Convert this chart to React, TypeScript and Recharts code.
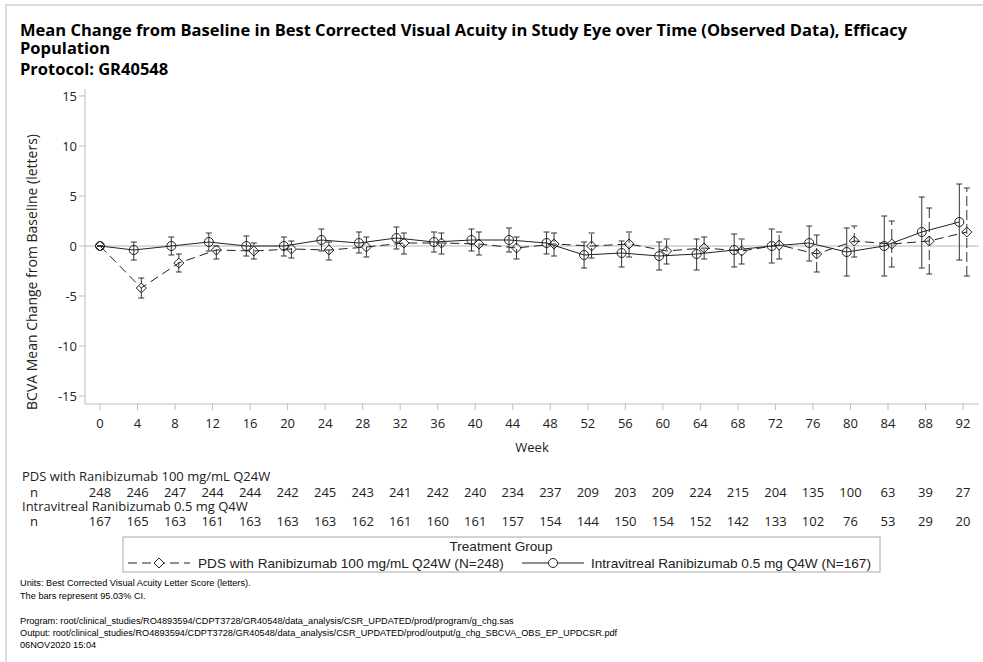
import React from "react";
import {
  LineChart,
  Line,
  XAxis,
  YAxis,
  ErrorBar,
  ReferenceLine,
  ReferenceArea,
} from "recharts";

// visit weeks
const weeks = [0, 4, 8, 12, 16, 20, 24, 28, 32, 36, 40, 44, 48, 52, 56, 60, 64, 68, 72, 76, 80, 84, 88, 92];

// PDS with Ranibizumab 100 mg/mL Q24W
const pdsMean = [0, -4.2, -1.7, -0.4, -0.5, -0.3, -0.4, -0.1, 0.3, 0.3, 0.2, -0.2, 0.2, 0.0, 0.2, -0.5, -0.2, -0.5, 0.1, -0.8, 0.5, 0.2, 0.5, 1.4];
const pdsLow = [0, -5.2, -2.6, -1.3, -1.3, -1.2, -1.4, -1.1, -0.8, -0.8, -0.9, -1.3, -1.0, -1.2, -1.1, -1.8, -1.3, -1.8, -1.3, -2.6, -1.1, -2.1, -2.8, -3.0];
const pdsHigh = [0, -3.2, -0.8, 0.0, 0.3, 0.5, 0.4, 0.9, 1.3, 1.3, 1.4, 0.9, 1.3, 1.3, 1.4, 0.7, 0.9, 0.7, 1.4, 1.1, 2.0, 2.5, 3.8, 5.8];
const pdsN = [248, 246, 247, 244, 244, 242, 245, 243, 241, 242, 240, 234, 237, 209, 203, 209, 224, 215, 204, 135, 100, 63, 39, 27];

// Intravitreal Ranibizumab 0.5 mg Q4W
const ivtMean = [0, -0.4, 0.0, 0.4, 0.0, 0.0, 0.6, 0.3, 0.8, 0.4, 0.6, 0.6, 0.3, -0.9, -0.7, -1.0, -0.8, -0.4, 0.0, 0.3, -0.6, 0.0, 1.4, 2.4];
const ivtLow = [0, -1.4, -0.9, -0.5, -1.0, -1.0, -0.5, -0.7, -0.3, -0.6, -0.5, -0.6, -0.8, -2.2, -2.1, -2.4, -2.4, -2.1, -1.7, -1.5, -3.0, -3.0, -2.2, -1.4];
const ivtHigh = [0, 0.4, 0.9, 1.3, 1.0, 0.9, 1.7, 1.4, 1.9, 1.4, 1.7, 1.8, 1.4, 0.4, 0.5, 0.4, 0.7, 1.2, 1.7, 2.0, 1.8, 3.0, 4.9, 6.2];
const ivtN = [167, 165, 163, 161, 163, 163, 163, 162, 161, 160, 161, 157, 154, 144, 150, 154, 152, 142, 133, 102, 76, 53, 29, 20];

const yTicks = [-15, -10, -5, 0, 5, 10, 15];

const PDS_LABEL = "PDS with Ranibizumab 100 mg/mL Q24W";
const IVT_LABEL = "Intravitreal Ranibizumab 0.5 mg Q4W";

// groups are nudged apart on the x axis so the bars don't overlap (baseline stays put)
const CLUSTER = 0.4;

function buildSeries(mean: number[], low: number[], high: number[], shift: number) {
  return weeks.map((w, i) => ({
    x: w === 0 ? w : w + shift,
    y: mean[i],
    ci: [mean[i] - low[i], high[i] - mean[i]],
  }));
}

const pdsData = buildSeries(pdsMean, pdsLow, pdsHigh, CLUSTER);
const ivtData = buildSeries(ivtMean, ivtLow, ivtHigh, -CLUSTER);

const INK = "#222";
const FRAME = "#bdbdbd";
const SANS = "'Open Sans', 'Noto Sans', sans-serif";
const ARIAL = "'Liberation Sans', Arial, sans-serif";

const Diamond = (props: any) => {
  const { cx, cy, index } = props;
  if (cx == null || cy == null) return <g key={`d-${index}`} />;
  const r = 5;
  return (
    <polygon
      key={`d-${index}`}
      points={`${cx},${cy - r} ${cx + r},${cy} ${cx},${cy + r} ${cx - r},${cy}`}
      fill="none"
      stroke={INK}
      strokeWidth={1}
    />
  );
};

const Circle = (props: any) => {
  const { cx, cy, index } = props;
  if (cx == null || cy == null) return <g key={`c-${index}`} />;
  return <circle key={`c-${index}`} cx={cx} cy={cy} r={4.5} fill="none" stroke={INK} strokeWidth={1} />;
};

// week label plus the at-risk counts under each tick
const WeekTick = (props: any) => {
  const { x, payload } = props;
  const i = weeks.indexOf(payload.value);
  return (
    <g fontFamily={SANS} fontSize={13} fill={INK} textAnchor="middle">
      <text x={x} y={428}>{payload.value}</text>
      <text x={x} y={497}>{pdsN[i]}</text>
      <text x={x} y={526}>{ivtN[i]}</text>
    </g>
  );
};

export default function App() {
  return (
    <div style={{ position: "fixed", left: 0, top: 0, width: 983, height: 662, background: "#fff" }}>
      <div style={{ position: "absolute", left: 0, top: 0 }}>
        <LineChart
          width={983}
          height={662}
          margin={{ top: 89, right: 4, bottom: 228, left: 35 }}
        >
          <XAxis
            type="number"
            dataKey="x"
            domain={[-1.6, 93.7]}
            ticks={weeks}
            interval={0}
            allowDataOverflow
            tick={<WeekTick />}
            tickSize={6}
            tickLine={{ stroke: FRAME }}
            axisLine={{ stroke: FRAME }}
            height={30}
          />
          <YAxis
            type="number"
            domain={[-15.8, 15.7]}
            ticks={yTicks}
            interval={0}
            allowDataOverflow
            width={50}
            tickSize={6}
            tickLine={{ stroke: FRAME }}
            axisLine={{ stroke: FRAME }}
            tick={{ fontFamily: SANS, fontSize: 13, fill: INK }}
          />
          <ReferenceArea fill="none" stroke={FRAME} strokeWidth={1.5} ifOverflow="visible" />
          <ReferenceLine y={0} stroke="#b5b5b5" strokeWidth={1} />
          <Line
            data={ivtData}
            dataKey="y"
            stroke={INK}
            strokeWidth={1}
            dot={<Circle />}
            activeDot={false}
            isAnimationActive={false}
          >
            <ErrorBar dataKey="ci" direction="y" width={3} stroke="#333" strokeWidth={1} />
          </Line>
          <Line
            data={pdsData}
            dataKey="y"
            stroke={INK}
            strokeWidth={1}
            strokeDasharray="9 5"
            dot={<Diamond />}
            activeDot={false}
            isAnimationActive={false}
          >
            <ErrorBar dataKey="ci" direction="y" width={3} stroke="#333" strokeWidth={1} strokeDasharray="10 4" />
          </Line>
        </LineChart>
      </div>

      <svg
        width={983}
        height={662}
        style={{ position: "absolute", left: 0, top: 0, pointerEvents: "none" }}
      >
        <rect x={6} y={5} width={1000} height={700} fill="none" stroke="#dcdcdc" strokeWidth={2} />

        <g fontFamily={SANS} fontWeight={700} fontSize={16.5} fill="#000">
          <text x={20} y={36}>
            Mean Change from Baseline in Best Corrected Visual Acuity in Study Eye over Time (Observed Data), Efficacy
          </text>
          <text x={20} y={54}>Population</text>
          <text x={20} y={75}>Protocol: GR40548</text>
        </g>

        <text
          x={0}
          y={0}
          transform="translate(37 272) rotate(-90)"
          textAnchor="middle"
          fontFamily={SANS}
          fontSize={14}
          fill={INK}
        >
          BCVA Mean Change from Baseline (letters)
        </text>

        <text x={532} y={452} textAnchor="middle" fontFamily={SANS} fontSize={13} fill={INK}>
          Week
        </text>

        <g fontFamily={SANS} fontSize={13} fill={INK}>
          <text x={22} y={481}>{PDS_LABEL}</text>
          <text x={30} y={497}>n</text>
          <text x={22} y={511}>{IVT_LABEL}</text>
          <text x={30} y={526}>n</text>
        </g>

        <g fontFamily={ARIAL} fontSize={13.6} fill={INK}>
          <rect x={123} y={537} width={757} height={35} fill="none" stroke="#a8a8a8" strokeWidth={1} />
          <text x={501} y={551} textAnchor="middle">Treatment Group</text>
          <line x1={128} x2={190} y1={563} y2={563} stroke={INK} strokeDasharray="9 5" />
          <polygon points="159,558 164,563 159,568 154,563" fill="#fff" stroke={INK} />
          <text x={198} y={568}>{PDS_LABEL} (N=248)</text>
          <line x1={522} x2={584} y1={563} y2={563} stroke={INK} />
          <circle cx={553} cy={563} r={4.5} fill="#fff" stroke={INK} />
          <text x={591} y={568}>{IVT_LABEL} (N=167)</text>
        </g>

        <g fontFamily={ARIAL} fontSize={9.2} fill="#000">
          <text x={20} y={586}>Units: Best Corrected Visual Acuity Letter Score (letters).</text>
          <text x={20} y={599}>The bars represent 95.03% CI.</text>
          <text x={20} y={624}>
            Program: root/clinical_studies/RO4893594/CDPT3728/GR40548/data_analysis/CSR_UPDATED/prod/program/g_chg.sas
          </text>
          <text x={20} y={636}>
            Output: root/clinical_studies/RO4893594/CDPT3728/GR40548/data_analysis/CSR_UPDATED/prod/output/g_chg_SBCVA_OBS_EP_UPDCSR.pdf
          </text>
          <text x={20} y={648}>06NOV2020 15:04</text>
        </g>
      </svg>
    </div>
  );
}
